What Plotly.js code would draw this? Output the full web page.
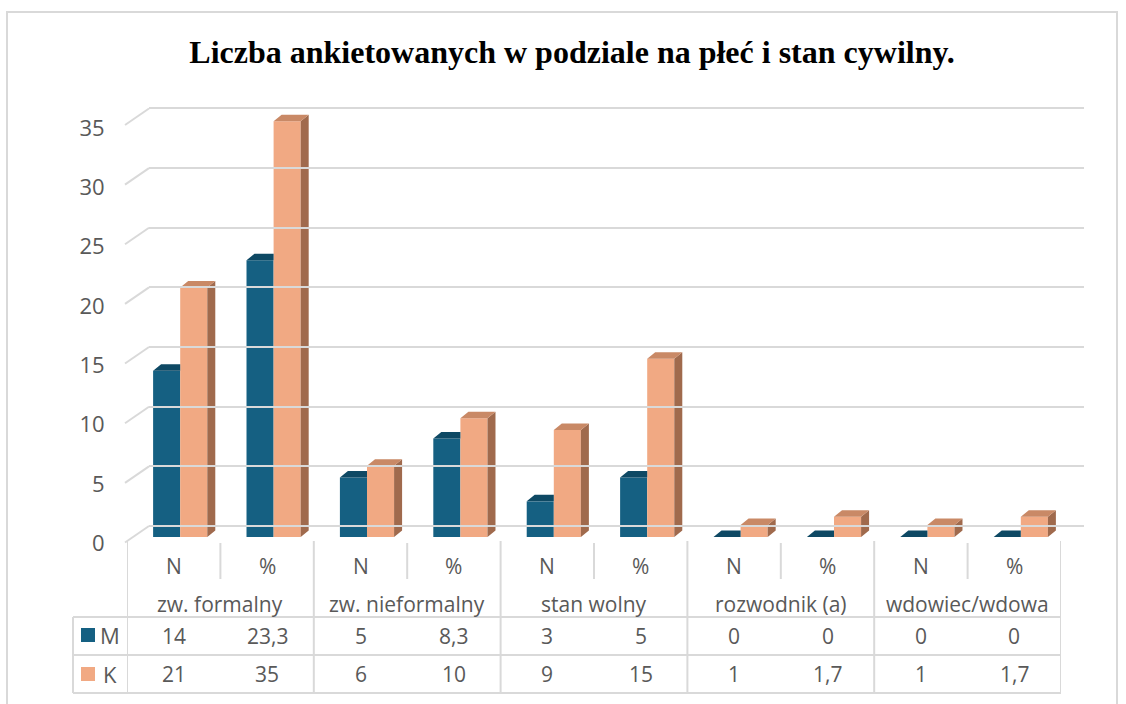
<!DOCTYPE html>
<html>
<head>
<meta charset="utf-8">
<script src="https://cdn.plot.ly/plotly-3.0.1.min.js"></script>
<style>html,body{margin:0;padding:0;background:#fff;}#chart{width:1126px;height:704px;}</style>
</head>
<body>
<div id="chart"></div>
<script>
// ---- data ----
const categories = ['zw. formalny', 'zw. nieformalny', 'stan wolny', 'rozwodnik (a)', 'wdowiec/wdowa'];
const subLabels = ['N', '%'];
const seriesNames = ['M', 'K'];
const valuesM = [14, 23.3, 5, 8.3, 3, 5, 0, 0, 0, 0];
const valuesK = [21, 35, 6, 10, 9, 15, 1, 1.7, 1, 1.7];
const yTickVals = [0, 5, 10, 15, 20, 25, 30, 35];
const titleText = 'Liczba ankietowanych w podziale na płeć i stan cywilny.';

// ---- styling / geometry ----
const W = 1126, H = 704;
const px = x => x / W;
const py = y => 1 - y / H;
const colM = '#156082', colMTop = '#0E4964';
const colK = '#F1A983', colKTop = '#C98966', colKSide = '#A06A4D';
const gridCol = '#d9d9d9', textCol = '#595959';
const font = 'Open Sans, Noto Sans, sans-serif';
const fs = 21;

const nCols = valuesM.length;
const colIdx = valuesM.map((_, i) => i);
const bargap = 0.42;
const barW = (1 - bargap) / 2;
const dxU = 8 / 93.4;     // depth in x units
const dyU = 6.5 / 11.88;  // depth in y units

// 3D faces built from the data values
function topFace(xl, xr, v, clipRight) {
  const xr2 = clipRight ? xr : xr + dxU;
  return {x: [xl, xl + dxU, xr2, xr, xl, null], y: [v, v + dyU, v + dyU, v, v, null]};
}
const mTopX = [], mTopY = [], kTopX = [], kTopY = [], kSideX = [], kSideY = [];
colIdx.forEach(i => {
  const mxl = i - barW, mxr = i;
  const kxl = i, kxr = i + barW;
  const mt = topFace(mxl, mxr, valuesM[i], valuesK[i] >= valuesM[i]);
  mTopX.push(...mt.x); mTopY.push(...mt.y);
  const kt = topFace(kxl, kxr, valuesK[i], false);
  kTopX.push(...kt.x); kTopY.push(...kt.y);
  kSideX.push(kxr, kxr + dxU, kxr + dxU, kxr, kxr, null);
  kSideY.push(0, dyU, valuesK[i] + dyU, valuesK[i], 0, null);
});

const data = [
  {type: 'scatter', mode: 'markers', x: [0.5], y: [0], xaxis: 'x2', yaxis: 'y2',
   marker: {opacity: 0}, hoverinfo: 'skip', showlegend: false},
  {type: 'bar', name: seriesNames[0], x: colIdx, y: valuesM, marker: {color: colM, line: {width: 0}},
   hoverinfo: 'skip', showlegend: false},
  {type: 'bar', name: seriesNames[1], x: colIdx, y: valuesK, marker: {color: colK, line: {width: 0}},
   hoverinfo: 'skip', showlegend: false},
  {type: 'scatter', mode: 'none', x: kSideX, y: kSideY, fill: 'toself', fillcolor: colKSide,
   hoverinfo: 'skip', showlegend: false, cliponaxis: false},
  {type: 'scatter', mode: 'none', x: kTopX, y: kTopY, fill: 'toself', fillcolor: colKTop,
   hoverinfo: 'skip', showlegend: false, cliponaxis: false},
  {type: 'scatter', mode: 'none', x: mTopX, y: mTopY, fill: 'toself', fillcolor: colMTop,
   hoverinfo: 'skip', showlegend: false, cliponaxis: false},
  {type: 'scatter', mode: 'markers', x: [0], y: [0], xaxis: 'x3', yaxis: 'y3',
   marker: {opacity: 0}, hoverinfo: 'skip', showlegend: false}
];

const shapes = [];
const annotations = [];
const lineStyle = {color: gridCol, width: 2};

// diagonal tick connectors (front label edge -> back wall), in yaxis2 units
const frontDy = 16.5 / 11.93;
yTickVals.forEach(v => shapes.push({type: 'line', xref: 'paper', yref: 'y2',
  x0: px(125), x1: px(149), y0: v - frontDy, y1: v, line: lineStyle, layer: 'below'}));

// outer chart border
shapes.push({type: 'rect', xref: 'paper', yref: 'paper', x0: px(7), x1: px(1117), y0: py(712), y1: py(12),
  line: lineStyle, fillcolor: 'rgba(0,0,0,0)', layer: 'below'});
// ---- table ----
for (let k = 0; k <= nCols; k++) {
  const full = (k % subLabels.length === 0);
  shapes.push({type: 'line', xref: 'x3', yref: 'paper', x0: k - 0.5, x1: k - 0.5,
    y0: py(full ? 541 : 543), y1: py(full ? 693 : 579), line: lineStyle});
}
[617, 655, 693].forEach(yy => shapes.push({type: 'line', xref: 'paper', yref: 'paper',
  x0: px(73), x1: px(1061), y0: py(yy), y1: py(yy), line: lineStyle}));
shapes.push({type: 'line', xref: 'paper', yref: 'paper', x0: px(73), x1: px(73), y0: py(617), y1: py(693), line: lineStyle});
// legend keys
[[seriesNames[0], colM, 635], [seriesNames[1], colK, 674]].forEach(([nm, c, yc]) => {
  shapes.push({type: 'rect', xref: 'paper', yref: 'paper', x0: px(81), x1: px(95), y0: py(yc + 7), y1: py(yc - 7),
    fillcolor: c, line: {width: 0}});
  annotations.push({xref: 'paper', yref: 'paper', x: px(110), y: py(yc), text: nm, showarrow: false,
    xanchor: 'center', yanchor: 'middle', font: {family: font, size: 22, color: textCol}});
});
const fmt = v => String(v).replace('.', ',');
colIdx.forEach(i => {
  annotations.push({xref: 'x3', yref: 'paper', x: i, y: py(566), text: subLabels[i % subLabels.length], showarrow: false,
    xanchor: 'center', yanchor: 'middle', font: {family: font, size: fs, color: textCol}});
  annotations.push({xref: 'x3', yref: 'paper', x: i, y: py(635.5), text: fmt(valuesM[i]), showarrow: false,
    xanchor: 'center', yanchor: 'middle', font: {family: font, size: fs, color: textCol}});
  annotations.push({xref: 'x3', yref: 'paper', x: i, y: py(674), text: fmt(valuesK[i]), showarrow: false,
    xanchor: 'center', yanchor: 'middle', font: {family: font, size: fs, color: textCol}});
});
categories.forEach((c, j) => {
  annotations.push({xref: 'x3', yref: 'paper', x: j * subLabels.length + 0.5, y: py(604), text: c, showarrow: false,
    xanchor: 'center', yanchor: 'middle', font: {family: font, size: fs, color: textCol}});
});

const layout = {
  width: W, height: H,
  margin: {l: 0, r: 0, t: 0, b: 0},
  paper_bgcolor: '#ffffff', plot_bgcolor: 'rgba(0,0,0,0)',
  hovermode: false,
  barmode: 'group', bargap: bargap, bargroupgap: 0,
  title: {text: titleText, font: {family: 'Liberation Serif, Times New Roman, serif', size: 32, color: '#000', weight: 'bold'},
    x: px(572), xanchor: 'center', y: py(52), yanchor: 'middle', xref: 'paper', yref: 'paper'},
  xaxis: {domain: [px(133.5), px(1067.5)], range: [-0.5, 9.5], visible: false, fixedrange: true},
  yaxis: {domain: [py(537 + 11.88), py(537 - 37 * 11.88)], range: [-1, 37], visible: false, fixedrange: true},
  xaxis2: {domain: [px(149), px(1084)], range: [0, 1], visible: false, anchor: 'y2', fixedrange: true},
  yaxis2: {domain: [py(526 + 2 * 11.93), py(526 - 37 * 11.93)], range: [-2, 37], anchor: 'x2',
    tickmode: 'array', tickvals: yTickVals, showticklabels: false, ticks: '', showgrid: true,
    gridcolor: gridCol, gridwidth: 2, zeroline: false, showline: false, fixedrange: true},
  xaxis3: {domain: [px(127), px(1061)], range: [-0.5, 9.5], visible: false, anchor: 'y3', fixedrange: true},
  yaxis3: {domain: [py(543.5 + 11.871), py(543.5 - 37 * 11.871)], range: [-1, 37], anchor: 'x3', side: 'left',
    tickmode: 'array', tickvals: yTickVals, ticks: 'outside', ticklen: 17, tickcolor: 'rgba(0,0,0,0)',
    showgrid: false, zeroline: false, showline: false, tickfont: {family: font, size: 22, color: textCol}, fixedrange: true},
  shapes: shapes,
  annotations: annotations
};

Plotly.newPlot('chart', data, layout, {displayModeBar: false, staticPlot: true});
</script>
</body>
</html>
